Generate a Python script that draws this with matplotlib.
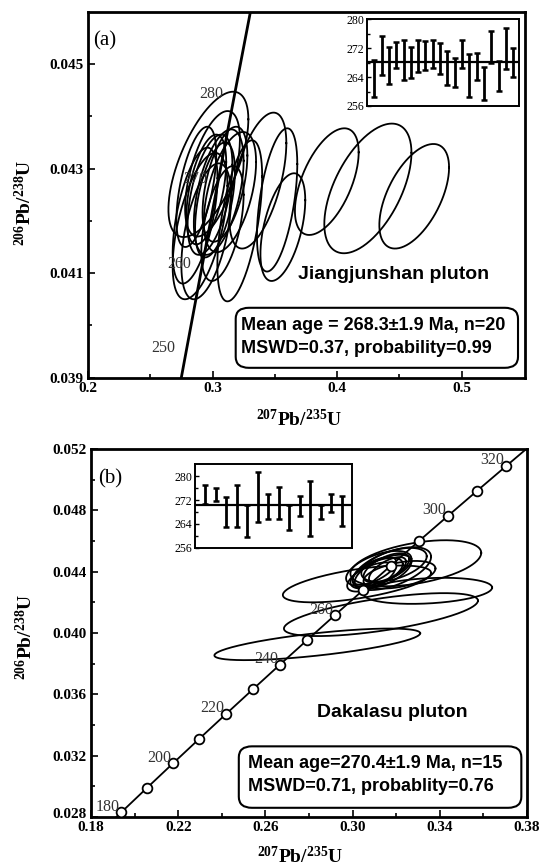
import numpy as np
import matplotlib.pyplot as plt
import matplotlib.transforms as mtransforms
from matplotlib.patches import FancyBboxPatch

plt.rcParams['font.family'] = ['Liberation Serif', 'DejaVu Serif']
plt.rcParams['mathtext.fontset'] = 'custom'
plt.rcParams['mathtext.rm'] = 'Liberation Serif:bold'
plt.rcParams['mathtext.bf'] = 'Liberation Serif:bold'
plt.rcParams['mathtext.default'] = 'bf'

# concordia points every 10 Ma (207Pb/235U, 206Pb/238U)
conc_age = [170, 180, 190, 200, 210, 220, 230, 240, 250, 260, 270, 280, 290, 300, 310, 320, 330]
conc_x = [0.18226, 0.19396, 0.20577, 0.21771, 0.22976, 0.24193, 0.25422, 0.26663, 0.27917,
          0.29183, 0.30462, 0.31753, 0.33057, 0.34374, 0.35704, 0.37047, 0.38403]
conc_y = [0.026722, 0.028316, 0.029912, 0.031511, 0.033113, 0.034716, 0.036323, 0.037932, 0.039543,
          0.041157, 0.042773, 0.044392, 0.046013, 0.047637, 0.049263, 0.050892, 0.052524]

# Jiangjunshan analyses: x, y, x-err, y-err, rho
a_x = [0.4620, 0.4248, 0.3918, 0.3519, 0.3565, 0.3364, 0.3219, 0.2967, 0.300, 0.305,
       0.290, 0.286, 0.298, 0.295, 0.302, 0.310, 0.314, 0.287, 0.295, 0.308]
a_y = [0.04247, 0.04262, 0.04275, 0.04240, 0.04188, 0.04277, 0.04200, 0.04308, 0.04290, 0.04255,
       0.04190, 0.04210, 0.04250, 0.04260, 0.04240, 0.04270, 0.04255, 0.04265, 0.04180, 0.04195]
a_sx = [0.0280, 0.0350, 0.0256, 0.0162, 0.0180, 0.0229, 0.0180, 0.0321, 0.022, 0.020,
        0.022, 0.018, 0.018, 0.016, 0.016, 0.018, 0.021, 0.016, 0.020, 0.017]
a_sy = [0.00100, 0.00124, 0.00102, 0.00137, 0.00103, 0.00130, 0.00154, 0.00139, 0.00120, 0.00120,
        0.00140, 0.00130, 0.00115, 0.00105, 0.00110, 0.00110, 0.00115, 0.00115, 0.00130, 0.00110]
a_rho = [0.55, 0.55, 0.55, 0.5, 0.5, 0.55, 0.55, 0.62, 0.55, 0.5,
         0.55, 0.55, 0.5, 0.5, 0.5, 0.5, 0.5, 0.55, 0.5, 0.5]

# Dakalasu analyses
b_x = [0.2838, 0.3130, 0.3020, 0.3345, 0.3290, 0.3180, 0.3120, 0.3140, 0.3110, 0.3155,
       0.3160, 0.3100, 0.3190, 0.3215, 0.3085]
b_y = [0.03926, 0.04120, 0.04320, 0.04275, 0.04455, 0.04420, 0.04420, 0.04400, 0.04390, 0.04425,
       0.04410, 0.04405, 0.04445, 0.04380, 0.04365]
b_sx = [0.0472, 0.0445, 0.0340, 0.0295, 0.0300, 0.0180, 0.0150, 0.0130, 0.0120, 0.0105,
        0.0085, 0.0100, 0.0150, 0.0165, 0.0110]
b_sy = [0.00103, 0.00140, 0.00120, 0.00085, 0.00150, 0.00140, 0.00115, 0.00110, 0.00100, 0.00095,
        0.00085, 0.00090, 0.00110, 0.00090, 0.00095]
b_rho = [0.7, 0.65, 0.6, 0.25, 0.45, 0.55, 0.55, 0.6, 0.6, 0.6, 0.65, 0.65, 0.5, 0.45, 0.6]

# weighted mean insets (206Pb/238U ages)
age_a = [263.6, 269.9, 267.3, 270.0, 268.7, 268.0, 269.8, 269.9, 270.5, 269.2,
         266.5, 265.3, 270.5, 264.5, 266.9, 262.3, 272.3, 264.3, 271.9, 268.1]
err_a = [5.2, 5.4, 5.1, 3.6, 5.5, 4.2, 4.4, 4.0, 3.9, 4.3,
         4.8, 4.1, 3.9, 5.9, 3.8, 4.6, 4.4, 4.2, 5.6, 4.0]
age_b = [273.9, 273.9, 268.0, 270.0, 265.0, 273.0, 269.9, 271.0, 266.1, 270.0,
         269.1, 268.0, 271.0, 268.3]
err_b = [3.1, 2.2, 5.1, 7.0, 5.3, 8.2, 4.1, 5.2, 4.1, 3.2, 9.1, 2.2, 3.1, 5.0]


def draw_ellipses(ax, xs, ys, sxs, sys_, rhos):
    t = np.linspace(0, 2 * np.pi, 240)
    for cx, cy, sx, sy, r in zip(xs, ys, sxs, sys_, rhos):
        ex = cx + sx * np.cos(t)
        ey = cy + sy * (r * np.cos(t) + np.sqrt(1 - r * r) * np.sin(t))
        ax.plot(ex, ey, color='black', lw=1.3, zorder=2)


def style_axes(ax, xt, xl, yt, yl):
    ax.set_xticks(xt)
    ax.set_xticklabels(xl)
    ax.set_yticks(yt)
    ax.set_yticklabels(yl)
    ax.tick_params(which='both', direction='in', top=False, right=False, width=1.2)
    ax.tick_params(which='major', length=5, labelsize=11, pad=3)
    ax.tick_params(which='minor', length=3)
    for lab in ax.get_xticklabels() + ax.get_yticklabels():
        lab.set_fontweight('bold')
    for s in ax.spines.values():
        s.set_linewidth(2)


def inset(fig, rect, ages, errs, mean, ylim, xmax):
    ins = fig.add_axes(rect)
    pos = np.arange(1, len(ages) + 1)
    ins.errorbar(pos, ages, yerr=errs, fmt='none', ecolor='black', elinewidth=2,
                 capsize=2.2, capthick=1.8)
    ins.axhline(mean, color='black', lw=1.6)
    ins.set_xlim(0, xmax)
    ins.set_ylim(*ylim)
    ins.set_xticks([])
    ins.set_yticks([256, 264, 272, 280])
    ins.set_yticks([260, 268, 276], minor=True)
    ins.tick_params(which='both', direction='in', right=False, width=1)
    ins.tick_params(which='major', length=3, labelsize=8.5, pad=2)
    ins.tick_params(which='minor', length=2)
    for s in ins.spines.values():
        s.set_linewidth(1.4)
    return ins


fig = plt.figure(figsize=(5.43, 8.68), dpi=100)

# ---------- panel (a)
ax = fig.add_axes([88 / 543, 1 - 377.7 / 868, 437 / 543, 366 / 868])
ax.plot(conc_x, conc_y, color='black', lw=2, zorder=3)
draw_ellipses(ax, a_x, a_y, a_sx, a_sy, a_rho)
for age, cx, cy in zip(conc_age, conc_x, conc_y):
    if age in (250, 260, 270, 280):
        ax.annotate(str(age), (cx, cy), xytext=(-8, 1), textcoords='offset points',
                    ha='right', va='center', fontsize=11.5, color='#333333', zorder=4)
ax.set_xlim(0.2, 0.551)
ax.set_ylim(0.039, 0.046)
ax.set_xticks([0.25, 0.35, 0.45], minor=True)
ax.set_yticks([0.040, 0.042, 0.044], minor=True)
style_axes(ax, [0.2, 0.3, 0.4, 0.5], ['0.2', '0.3', '0.4', '0.5'],
           [0.039, 0.041, 0.043, 0.045], ['0.039', '0.041', '0.043', '0.045'])
ax.set_xlabel(r'$^{207}$Pb/$^{235}$U', fontsize=14, fontweight='bold')
ax.set_ylabel(r'$^{206}$Pb/$^{238}$U', fontsize=14, fontweight='bold')
ax.xaxis.set_label_coords(0.483, -0.085)
ax.yaxis.set_label_coords(-0.12, 0.477)
ax.text(0.012, 0.92, '(a)', transform=ax.transAxes, fontsize=15, va='center')
ax.text(0.699, 0.283, 'Jiangjunshan pluton', transform=ax.transAxes, ha='center', va='center',
        fontsize=14, fontweight='bold', family='Liberation Sans')
ax.add_patch(FancyBboxPatch((0.338, 0.027), 0.646, 0.164, transform=ax.transAxes,
                            boxstyle='round,pad=0,rounding_size=0.03', fill=True,
                            facecolor='white', edgecolor='black', lw=1.5, zorder=5))
ax.text(0.349, 0.142, 'Mean age = 268.3\u00b11.9 Ma, n=20', transform=ax.transAxes, va='center',
        fontsize=13, fontweight='bold', family='Liberation Sans', zorder=6)
ax.text(0.349, 0.079, 'MSWD=0.37, probability=0.99', transform=ax.transAxes, va='center',
        fontsize=13, fontweight='bold', family='Liberation Sans', zorder=6)
inset(fig, [367 / 543, 1 - 106 / 868, 152 / 543, 86.7 / 868], age_a, err_a, 268.3, (256, 280), 20.8)

# ---------- panel (b)
bx = fig.add_axes([91 / 543, 1 - 817 / 868, 436 / 543, 368 / 868])
draw_ellipses(bx, b_x, b_y, b_sx, b_sy, b_rho)
bx.plot(conc_x, conc_y, color='black', lw=1.3, marker='o', ms=7, mfc='white', mec='black',
        mew=1.3, zorder=3)
for age, cx, cy in zip(conc_age, conc_x, conc_y):
    if age in (180, 200, 220, 240, 260, 300, 320):
        bx.annotate(str(age), (cx, cy), xytext=(-1.5, 4), textcoords='offset points',
                    ha='right', va='center', fontsize=11.5, color='#333333', zorder=4)
bx.set_xlim(0.18, 0.38)
bx.set_ylim(0.028, 0.052)
bx.set_xticks([0.20, 0.24, 0.28, 0.32, 0.36], minor=True)
bx.set_yticks([0.030, 0.034, 0.038, 0.042, 0.046, 0.050], minor=True)
style_axes(bx, [0.18, 0.22, 0.26, 0.30, 0.34, 0.38], ['0.18', '0.22', '0.26', '0.30', '0.34', '0.38'],
           [0.028, 0.032, 0.036, 0.040, 0.044, 0.048, 0.052],
           ['0.028', '0.032', '0.036', '0.040', '0.044', '0.048', '0.052'])
# lift the lowest y label a touch so it clears the first x label
low = bx.yaxis.get_major_ticks()[0].label1
low.set_transform(low.get_transform() + mtransforms.ScaledTranslation(0, 3 / 72, fig.dpi_scale_trans))
bx.set_xlabel(r'$^{207}$Pb/$^{235}$U', fontsize=14, fontweight='bold')
bx.set_ylabel(r'$^{206}$Pb/$^{238}$U', fontsize=14, fontweight='bold')
bx.xaxis.set_label_coords(0.48, -0.078)
bx.yaxis.set_label_coords(-0.125, 0.49)
bx.text(0.016, 0.92, '(b)', transform=bx.transAxes, fontsize=15, va='center')
bx.text(0.691, 0.283, 'Dakalasu pluton', transform=bx.transAxes, ha='center', va='center',
        fontsize=14, fontweight='bold', family='Liberation Sans')
bx.add_patch(FancyBboxPatch((0.339, 0.025), 0.648, 0.167, transform=bx.transAxes,
                            boxstyle='round,pad=0,rounding_size=0.03', fill=True,
                            facecolor='white', edgecolor='black', lw=1.5, zorder=5))
bx.text(0.361, 0.145, 'Mean age=270.4\u00b11.9 Ma, n=15', transform=bx.transAxes, va='center',
        fontsize=13, fontweight='bold', family='Liberation Sans', zorder=6)
bx.text(0.361, 0.084, 'MSWD=0.71, probablity=0.76', transform=bx.transAxes, va='center',
        fontsize=13, fontweight='bold', family='Liberation Sans', zorder=6)
inset(fig, [195 / 543, 1 - 548 / 868, 157 / 543, 84 / 868], age_b, err_b, 270.4, (256, 284), 15)

fig.savefig('out.png', dpi=100, facecolor='white')
